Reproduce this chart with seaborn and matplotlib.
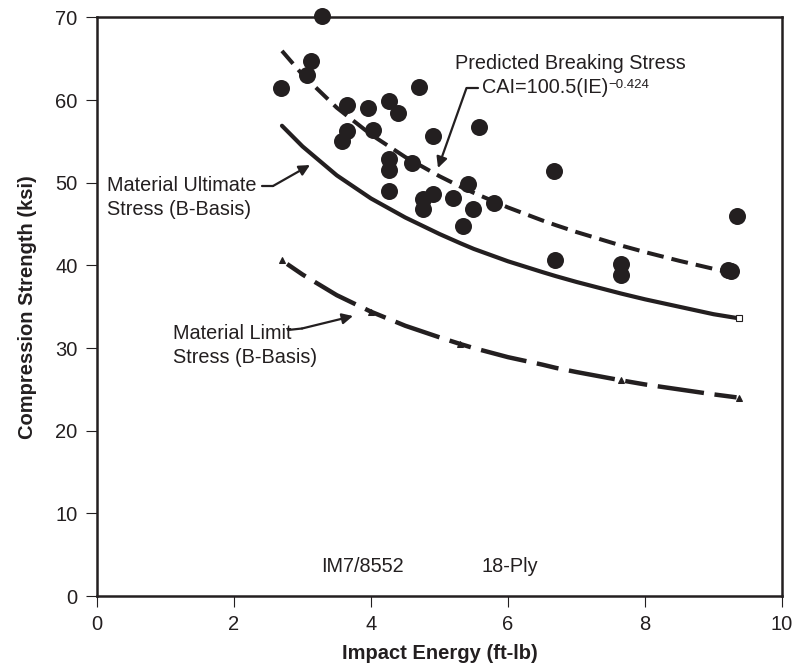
import matplotlib
matplotlib.use("Agg")
import matplotlib.pyplot as plt
import seaborn as sns
import pandas as pd

# Compression-after-impact test results, IM7/8552 18-ply
impact_energy = [2.68, 3.06, 3.13, 3.28, 3.57, 3.65, 3.65, 3.96, 4.03, 4.26,
                 4.26, 4.26, 4.26, 4.40, 4.60, 4.70, 4.76, 4.76, 4.90, 4.91,
                 5.19, 5.35, 5.42, 5.49, 5.58, 5.79, 6.67, 6.69, 7.65, 7.65,
                 9.21, 9.26, 9.34]
compression_strength = [61.5, 63.1, 64.7, 70.2, 55.0, 59.4, 56.3, 59.0, 56.4, 59.9,
                        52.9, 51.5, 49.0, 58.4, 52.4, 61.6, 48.0, 46.8, 55.7, 48.6,
                        48.1, 44.8, 49.8, 46.8, 56.7, 47.5, 51.4, 40.6, 40.2, 38.8,
                        39.5, 39.3, 46.0]

# Design curves
curve_energy = [2.7, 3.0, 3.5, 4.0, 4.5, 5.0, 5.3, 5.5, 6.0, 6.5, 6.7, 7.0,
                7.65, 8.0, 8.5, 9.0, 9.37]
cai_coef = 100.5
cai_exp = -0.424
ultimate_bbasis = [56.9, 54.4, 50.9, 48.1, 45.8, 43.8, 42.7, 42.0, 40.5, 39.2,
                   38.7, 38.0, 36.6, 35.9, 35.0, 34.1, 33.6]
limit_bbasis = [40.6, 38.9, 36.4, 34.4, 32.7, 31.3, 30.5, 30.0, 28.9, 28.0,
                27.6, 27.1, 26.1, 25.6, 25.0, 24.4, 24.0]

x_ticks = [0, 2, 4, 6, 8, 10]
y_ticks = [0, 10, 20, 30, 40, 50, 60, 70]

sns.set_theme(style="ticks")
plt.rcParams["font.family"] = ["Liberation Sans", "DejaVu Sans"]
INK = "#231f20"

fig = plt.figure(figsize=(7.94, 6.70), dpi=100)
ax = fig.add_axes([0.1222, 0.1104, 0.8627, 0.8635])

predicted = [cai_coef * e ** cai_exp for e in curve_energy]
curves = pd.DataFrame({"energy": curve_energy, "predicted": predicted,
                       "ultimate": ultimate_bbasis, "limit": limit_bbasis})
points = pd.DataFrame({"energy": impact_energy, "strength": compression_strength})

# Predicted breaking stress (dashed)
sns.lineplot(data=curves, x="energy", y="predicted", ax=ax, color=INK, lw=2.9,
             estimator=None, sort=False)
ax.lines[-1].set_dashes((4.2, 2.0))

# Material ultimate stress (solid)
sns.lineplot(data=curves, x="energy", y="ultimate", ax=ax, color=INK, lw=3.0,
             estimator=None, sort=False)
ax.plot(curves["energy"].iloc[-1], curves["ultimate"].iloc[-1], marker="s",
        ms=4.5, mfc="white", mec=INK, mew=0.8, zorder=6)

# Material limit stress (long/short dashes)
sns.lineplot(data=curves, x="energy", y="limit", ax=ax, color=INK, lw=3.2,
             estimator=None, sort=False, marker="^", markersize=4,
             markevery=[0, 3, 6, 12, 16], markeredgecolor=INK)
ax.lines[-1].set_linestyle((11.5, (10.5, 2.4, 5.0, 2.4)))

# Test data
sns.scatterplot(data=points, x="energy", y="strength", ax=ax, s=150, color=INK,
                edgecolor=INK, linewidth=0, clip_on=False, zorder=5)

ax.set_xlim(0, 10)
ax.set_ylim(0, 70)
ax.set_xticks(x_ticks)
ax.set_yticks(y_ticks)
ax.tick_params(direction="out", length=8, width=0.8, color=INK, pad=6,
               labelsize=14.5, labelcolor=INK)
for side in ax.spines.values():
    side.set_visible(True)
    side.set_linewidth(1.8)
    side.set_color(INK)

ax.set_xlabel("Impact Energy (ft-lb)", fontsize=14.5, fontweight="bold",
              color=INK, labelpad=7)
ax.set_ylabel("Compression Strength (ksi)", fontsize=14.5, fontweight="bold",
              color=INK, labelpad=13)

label_kw = dict(fontsize=14.3, color=INK)
arrow_kw = dict(arrowstyle="-|>", color=INK, lw=1.6, mutation_scale=16,
                shrinkA=0, shrinkB=0)

# Predicted breaking stress callout
ax.text(6.905, 64.46, "Predicted Breaking Stress", ha="center", va="center", **label_kw)
cai = ax.text(5.616, 61.47, "CAI=100.5(IE)", ha="left", va="center", **label_kw)
ax.annotate("\u22120.424", xy=(1.0, 0.95), xycoords=cai, ha="left", va="top",
            fontsize=9.5, color=INK)
ax.plot([5.562, 5.394], [61.47, 61.47], color=INK, lw=1.6)
ax.annotate("", xy=(4.978, 51.79), xytext=(5.394, 61.47), arrowprops=arrow_kw)

# Material ultimate callout
ax.text(0.142, 48.22, "Material Ultimate\nStress (B-Basis)", ha="left", va="center",
        linespacing=1.3, **label_kw)
ax.plot([2.409, 2.569], [49.61, 49.61], color=INK, lw=1.6)
ax.annotate("", xy=(3.109, 52.15), xytext=(2.569, 49.61), arrowprops=arrow_kw)

# Material limit callout
ax.text(1.109, 30.33, "Material Limit\nStress (B-Basis)", ha="left", va="center",
        linespacing=1.3, **label_kw)
ax.plot([2.788, 2.993], [32.19, 32.37], color=INK, lw=1.6)
ax.annotate("", xy=(3.737, 33.88), xytext=(2.993, 32.37), arrowprops=arrow_kw)

ax.text(3.88, 3.6, "IM7/8552", ha="center", va="center", **label_kw)
ax.text(6.03, 3.6, "18-Ply", ha="center", va="center", **label_kw)

fig.savefig("out.png", dpi=100)
